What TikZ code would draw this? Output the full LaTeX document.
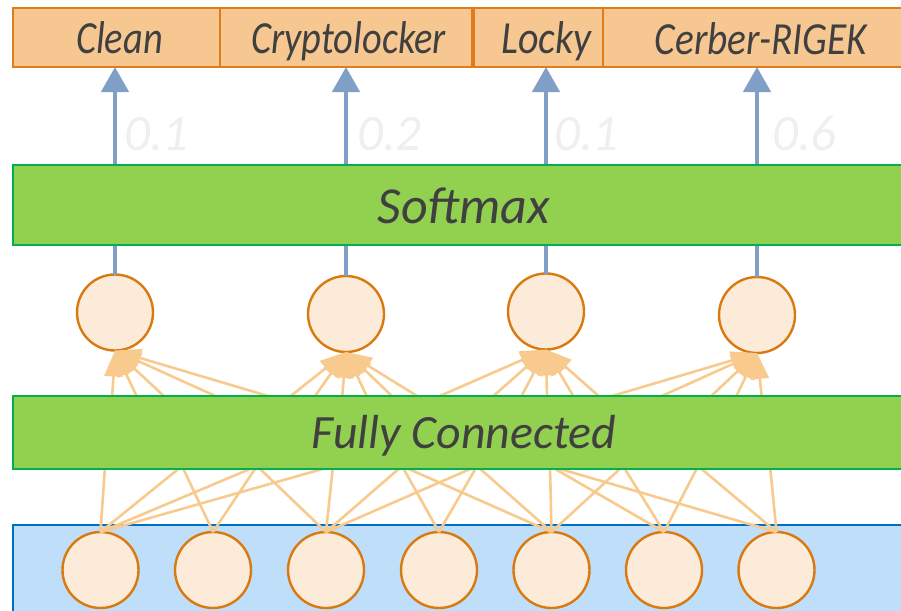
\documentclass[tikz,border=0pt]{standalone}
\usepackage{fontspec}
\setmainfont{Carlito}
\usetikzlibrary{arrows.meta}
\definecolor{peach}{HTML}{F7C791}
\definecolor{peachline}{HTML}{E07D1A}
\definecolor{cfill}{HTML}{FDEBD9}
\definecolor{cline}{HTML}{D97A10}
\definecolor{gfill}{HTML}{92D050}
\definecolor{gline}{HTML}{00B050}
\definecolor{bfill}{HTML}{BFDEF9}
\definecolor{bline}{HTML}{0070C0}
\definecolor{arrblue}{HTML}{7F9FC6}
\definecolor{txtgray}{HTML}{404040}
\definecolor{probgray}{HTML}{EFEFEF}
\definecolor{conn}{HTML}{F8CA8E}
\begin{document}
\begin{tikzpicture}[x=1pt,y=-1pt,
  labelbox/.style={draw=peachline, fill=peach, line width=1.6pt, anchor=north west, outer sep=0pt, inner sep=0pt, minimum height=59pt},
  bandbox/.style={draw=gline, fill=gfill, line width=1.6pt, anchor=north west, outer sep=0pt, inner sep=0pt, minimum width=902pt},
  inbox/.style={draw=bline, fill=bfill, line width=2pt, anchor=north west, outer sep=0pt, inner sep=0pt, minimum width=902pt, minimum height=100pt},
  neuron/.style={circle, draw=cline, fill=cfill, line width=2.4pt, minimum size=76pt, inner sep=0pt, outer sep=0pt},
  labtext/.style={font=\fontsize{46}{46}\selectfont\itshape, text=txtgray, anchor=base, inner sep=0pt},
  bandtext/.style={font=\fontsize{52}{52}\selectfont\itshape, text=txtgray, anchor=base, inner sep=0pt},
  fctext/.style={font=\fontsize{47.8}{48}\selectfont\itshape, text=txtgray, anchor=base, inner sep=0pt},
  probtext/.style={font=\fontsize{51}{51}\selectfont\itshape, text=probgray, anchor=base west, inner sep=0pt},
  bluearrow/.style={draw=arrblue, line width=4.6pt, -{Triangle[length=25pt,width=27pt]}},
  fanline/.style={draw=conn, line width=2.6pt, -{Triangle[length=26pt,width=18pt]}},
  wire/.style={draw=conn, line width=2.6pt}
]
\useasboundingbox (0,0) rectangle (901,610);

% hidden (top) neurons
\node[neuron] (h1) at (115,312.5) {};
\node[neuron] (h2) at (346,314) {};
\node[neuron] (h3) at (546,311.5) {};
\node[neuron] (h4) at (757,315) {};

% input neurons
\foreach \i/\x in {1/100.5,2/213,3/326,4/439,5/551.5,6/664,7/776.5}
  \coordinate (xpos\i) at (\x,570);

% top label boxes
\node[labelbox, minimum width=207pt] (clean) at (13,8) {};
\node[labelbox, minimum width=252pt] (crypto) at (220,8) {};
\node[labelbox, minimum width=142pt] (locky) at (474,8) {};
\node[labelbox, minimum width=316pt] (cerber) at (603,8) {};
\node[labtext] (tclean) at (119.5,54) {\scalebox{0.835}[1]{Clean}};
\node[labtext] (tcrypto) at (348.5,54) {\scalebox{0.835}[1]{Cryptolocker}};
\node[labtext] (tlocky) at (546.5,54) {\scalebox{0.87}[1]{Locky}};
\node[labtext] (tcerber) at (761,55) {\scalebox{0.855}[1]{Cerber-RIGEK}};

% blue arrows
\draw[bluearrow] (h1.north) -- (h1.north |- clean.south);
\draw[bluearrow] (h2.north) -- (h2.north |- crypto.south);
\draw[bluearrow] (h3.north) -- (h3.north |- locky.south);
\draw[bluearrow] (h4.north) -- (h4.north |- cerber.south);

% probabilities
\node[probtext] (p1) at (124,150) {0.1};
\node[probtext] (p2) at (357,150) {0.2};
\node[probtext] (p3) at (554,150) {0.1};
\node[probtext] (p4) at (772,150) {0.6};

% softmax band
\node[bandbox, minimum height=80pt] (softmax) at (13,165) {};
\node[bandtext] (tsoftmax) at (464,223) {Softmax};

% input layer background
\node[inbox] (inlayer) at (13,525) {};
\foreach \i in {1,...,7}
  \node[neuron] (x\i) at (xpos\i) {};

% wires from input neurons up to fully connected
\foreach \x/\c in {105/1,182/1,182/2,257/1,257/2,257/3,333/1,333/3,402/3,402/4,402/5,477/3,477/4,477/5,550/5,550/6,550/7,623/5,623/6,698/6,698/7,770/7}{
  \coordinate (fb\x) at (\x,466);
  \draw[wire] (fb\x) -- (x\c.north);
}

% fan connections from fully connected to hidden neurons
\foreach \x/\c in {112/1,138/1,167/1,222/1,278/1,287/2,313/2,342/2,368/2,395/2,422/2,433/3,490/3,520/3,547/3,575/3,602/3,602/4,655/4,708/4,735/4,762/4}{
  \coordinate (ft\x) at (\x,399);
  \draw[fanline] (ft\x) -- (h\c.south);
}

% fully connected band
\node[bandbox, minimum height=73pt] (fc) at (13,396) {};
\node[fctext] (tfc) at (464,448) {Fully Connected};
\end{tikzpicture}
\end{document}
